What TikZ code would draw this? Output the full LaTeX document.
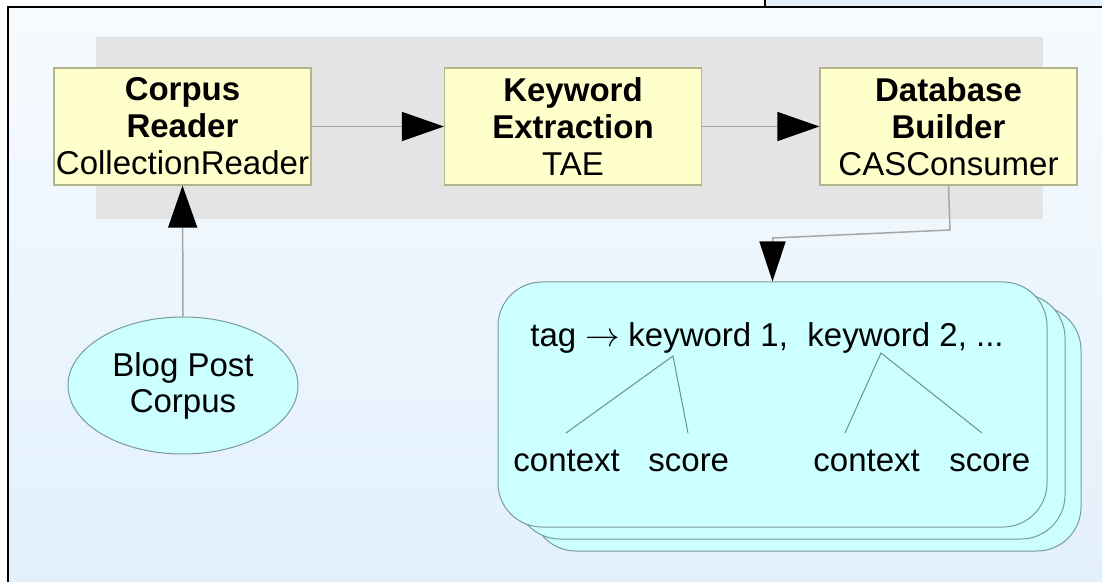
\documentclass[tikz,border=0pt]{standalone}
\usepackage{fontspec}
\setmainfont{Liberation Sans}
\usetikzlibrary{arrows.meta,shapes.geometric,calc}
\definecolor{boxfill}{HTML}{FFFFCC}
\definecolor{boxline}{HTML}{B4B48C}
\definecolor{cardfill}{HTML}{CCFFFF}
\definecolor{cardline}{HTML}{7A9A9A}
\definecolor{band}{HTML}{E4E4E4}
\definecolor{bgtop}{HTML}{F7FBFE}
\definecolor{bgbot}{HTML}{E2F0FC}
\definecolor{conn}{HTML}{A6A6A6}
\definecolor{treeline}{HTML}{6E8E8E}
\tikzset{
  stagebox/.style={draw=boxline, fill=boxfill, line width=0.6pt,
    minimum width=128.5pt, minimum height=58.5pt, align=center, inner sep=0pt,
    font=\fontsize{16.5}{18.5}\selectfont},
  cardshape/.style={draw=cardline, fill=cardfill, line width=0.5pt, rounded corners=22pt},
  source/.style={ellipse, draw=cardline, fill=cardfill, line width=0.5pt,
    minimum width=115pt, minimum height=68.5pt, align=center, inner sep=0pt,
    font=\fontsize{16.5}{18}\selectfont},
  cardtext/.style={anchor=base west, inner sep=0pt, font=\fontsize{16.5}{18}\selectfont},
  flow/.style={draw=conn, line width=0.75pt},
  bighead/.style={-{Triangle[length=21pt,width=14.5pt,fill=black,color=black]}},
  downhead/.style={-{Triangle[length=20pt,width=13pt,fill=black,color=black]}},
  tree/.style={draw=treeline, line width=0.5pt},
}
\begin{document}
\begin{tikzpicture}[x=0.5pt,y=-0.5pt]
\useasboundingbox (0,0) rectangle (1102,582);
% background
\fill[white] (0,0) rectangle (1102,582);
\shade[top color=bgtop, bottom color=bgbot] (8,7) rectangle (1102,582);
\fill[bgbot] (765,0) rectangle (1102,7);
\draw[black, line width=1pt] (765,0) -- (765,7);
\draw[black, line width=1pt] (8,582) -- (8,7) -- (1102,7);
% gray band
\fill[band] (96,37) rectangle (1043,219);
% stage boxes
\node[stagebox] (cr) at (182.5,126.5) {\textbf{Corpus}\\\textbf{Reader}\\CollectionReader};
\node[stagebox] (ke) at (573,126.5) {\textbf{Keyword}\\\textbf{Extraction}\\TAE};
\node[stagebox] (db) at (948.5,126.5) {\textbf{Database}\\\textbf{Builder}\\CASConsumer};
% source
\node[source] (blog) at (183,385.5) {Blog Post\\Corpus};
% card stack
\draw[cardshape] (532,306) rectangle (1081,551);
\draw[cardshape] (516,294) rectangle (1065,539);
\node[cardshape, minimum width=274.5pt, minimum height=122.5pt, inner sep=0pt] (card) at (772.5,404.5) {};
% card text
\node[cardtext] (tag) at (530,347) {tag $\rightarrow$};
\node[cardtext] (kw1) at (628,347) {keyword 1,};
\node[cardtext] (kw2) at (807,347) {keyword 2, ...};
\node[cardtext] (ctx1) at (513,471) {context};
\node[cardtext] (sc1) at (648,471) {score};
\node[cardtext] (ctx2) at (813,471) {context};
\node[cardtext] (sc2) at (949,471) {score};
\coordinate (j1) at (673,356);
\coordinate (j2) at (881,353);
\coordinate (c1) at (566,433);
\coordinate (s1) at (688,433);
\coordinate (c2) at (845,433);
\coordinate (s2) at (982,433);
\draw[tree] (c1) -- (j1) -- (s1);
\draw[tree] (c2) -- (j2) -- (s2);
% connectors
\draw[flow, bighead] (cr.east) -- (ke.west);
\draw[flow, bighead] (ke.east) -- (db.west);
\draw[flow, bighead] (blog.north) -- (cr.south);
\coordinate (b1) at (950,230);
\coordinate (b2) at (772.5,238);
\draw[flow, downhead] (db.south) -- (b1) -- (b2) -- (card.north);
\end{tikzpicture}
\end{document}
